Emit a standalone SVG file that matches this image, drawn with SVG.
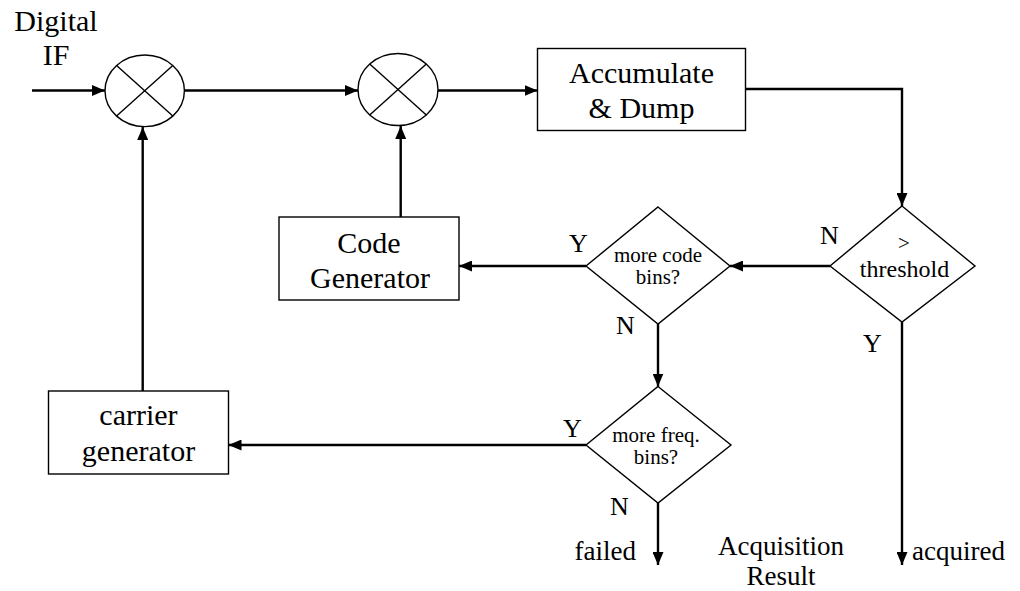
<svg xmlns="http://www.w3.org/2000/svg" width="1020" height="591" viewBox="0 0 1020 591">
  <style>
    text { font-family: "Liberation Serif", "Times New Roman", serif; fill: #000; }
    .box { font-size: 30px; text-anchor: middle; }
    .dia { font-size: 21px; text-anchor: middle; }
    .lbl { font-size: 26px; }
    .res { font-size: 27px; }
    .shape { fill: #fff; stroke: #000; stroke-width: 1.4; }
    .wire { fill: none; stroke: #000; stroke-width: 2.4; }
  </style>
  <defs>
    <marker id="arrow" markerUnits="userSpaceOnUse" markerWidth="13" markerHeight="11" refX="13" refY="5.5" orient="auto">
      <path d="M0,0 L13,5.5 L0,11 z" fill="#000"/>
    </marker>
  </defs>

  <rect width="1020" height="591" fill="#fff"/>

  <!-- connectors -->
  <g id="connectors" class="wire" marker-end="url(#arrow)">
    <line x1="32" y1="90.5" x2="105" y2="90.5"/>
    <line x1="184.5" y1="90.5" x2="358" y2="90.5"/>
    <line x1="438" y1="90.5" x2="537.5" y2="90.5"/>
    <polyline points="745.5,89 902,89 902,206"/>
    <line x1="400.7" y1="217" x2="400.7" y2="126"/>
    <line x1="142.7" y1="391" x2="142.7" y2="127"/>
    <line x1="830" y1="266" x2="730" y2="266"/>
    <line x1="586" y1="266" x2="459" y2="266"/>
    <line x1="658" y1="324" x2="658" y2="386.5"/>
    <line x1="586" y1="445" x2="228.5" y2="445"/>
    <line x1="658" y1="503" x2="658" y2="565"/>
    <line x1="902" y1="322" x2="902" y2="565"/>
  </g>

  <!-- input label -->
  <g id="input">
    <text class="box" x="56" y="31">Digital</text>
    <text class="box" x="56" y="65">IF</text>
  </g>

  <!-- carrier mixer -->
  <g id="mixer1">
    <ellipse class="shape" cx="144.7" cy="90.8" rx="39.7" ry="35.8"/>
    <line x1="116.6" y1="65.5" x2="172.8" y2="116.1" stroke="#000" stroke-width="1.4"/>
    <line x1="172.8" y1="65.5" x2="116.6" y2="116.1" stroke="#000" stroke-width="1.4"/>
  </g>

  <!-- code mixer -->
  <g id="mixer2">
    <ellipse class="shape" cx="398" cy="89.5" rx="40" ry="36"/>
    <line x1="369.7" y1="64" x2="426.3" y2="115" stroke="#000" stroke-width="1.4"/>
    <line x1="426.3" y1="64" x2="369.7" y2="115" stroke="#000" stroke-width="1.4"/>
  </g>

  <g id="accumulate">
    <rect class="shape" x="537.5" y="48.5" width="208" height="82"/>
    <text class="box" x="641.5" y="83">Accumulate</text>
    <text class="box" x="641.5" y="118">&amp; Dump</text>
  </g>

  <g id="code-generator">
    <rect class="shape" x="279" y="217" width="180" height="83"/>
    <text class="box" x="369" y="253">Code</text>
    <text class="box" x="370" y="288">Generator</text>
  </g>

  <g id="carrier-generator">
    <rect class="shape" x="48.5" y="391" width="180" height="83"/>
    <text class="box" x="138.5" y="425">carrier</text>
    <text class="box" x="138.5" y="461">generator</text>
  </g>

  <g id="threshold">
    <polygon class="shape" points="902,206 975,266 902,322 830,266"/>
    <text class="dia" x="904" y="250">&gt;</text>
    <text x="904.5" y="277" font-size="24" text-anchor="middle">threshold</text>
  </g>

  <g id="code-bins">
    <polygon class="shape" points="658,207 730,266 658,324 586,266"/>
    <text class="dia" x="658" y="262">more code</text>
    <text class="dia" x="658" y="284">bins?</text>
  </g>

  <g id="freq-bins">
    <polygon class="shape" points="658,386.5 731,445 658,503 586,445"/>
    <text class="dia" x="656" y="442">more freq.</text>
    <text class="dia" x="656" y="464">bins?</text>
  </g>

  <!-- branch labels -->
  <g id="branch-labels" class="lbl">
    <text x="569" y="252">Y</text>
    <text x="820" y="244">N</text>
    <text x="616" y="334">N</text>
    <text x="863" y="352">Y</text>
    <text x="563" y="437">Y</text>
    <text x="610" y="515">N</text>
  </g>

  <!-- outcomes -->
  <g id="results" class="res">
    <text x="636" y="560" text-anchor="end">failed</text>
    <text x="781" y="555" text-anchor="middle">Acquisition</text>
    <text x="781" y="585" text-anchor="middle">Result</text>
    <text x="912" y="560">acquired</text>
  </g>
</svg>
